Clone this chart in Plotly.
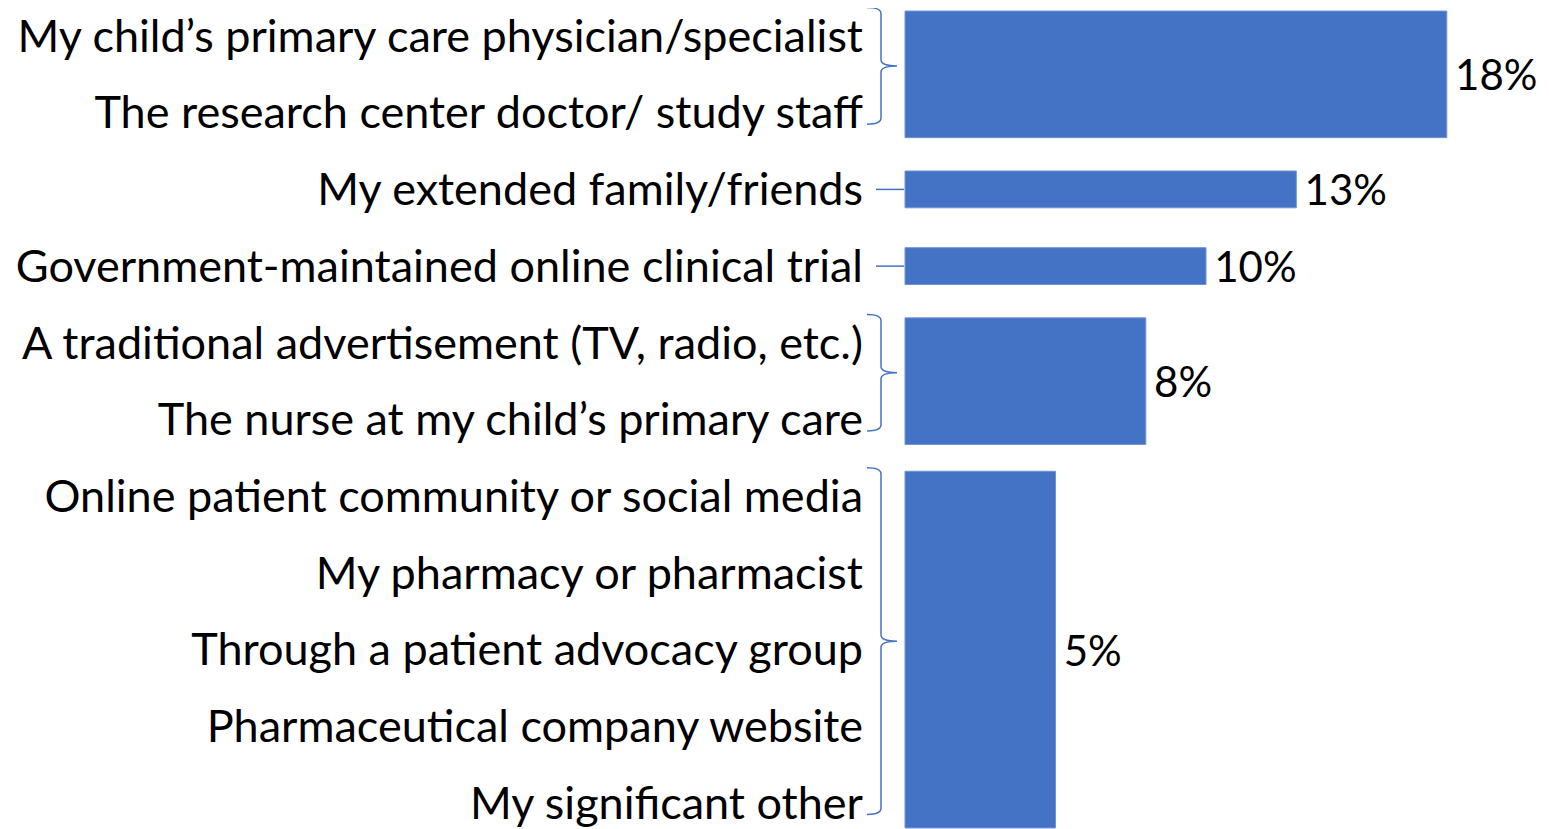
import plotly.graph_objects as go

# answer options, top to bottom
labels = [
    "My child’s primary care physician/specialist",
    "The research center doctor/ study staff",
    "My extended family/friends",
    "Government-maintained online clinical trial",
    "A traditional advertisement (TV, radio, etc.)",
    "The nurse at my child’s primary care",
    "Online patient community or social media",
    "My pharmacy or pharmacist",
    "Through a patient advocacy group",
    "Pharmaceutical company website",
    "My significant other",
]
# how many consecutive options share one bar
group_sizes = [2, 1, 1, 2, 5]
shares = [18, 13, 10, 8, 5]

BLUE = "#4472C4"
FONT = "Lato"

# page geometry (the html body puts the figure 8px in from the top-left)
PAGE_W, PAGE_H = 1549, 829
BODY = 8
W, H = PAGE_W - 2 * BODY, PAGE_H - BODY
X0_PX = 905          # page pixel where 0% sits
PX_PER_PCT = 30.1
ROW0_PX = 36         # page pixel, centre of first row
ROW_PX = 76.7        # row pitch


def xd(px):
    return (px - X0_PX) / PX_PER_PCT


def yd(py):
    return (py - ROW0_PX) / ROW_PX


centers, widths, firsts, lasts = [], [], [], []
start = 0
for n in group_sizes:
    first, last = start, start + n - 1
    firsts.append(first)
    lasts.append(last)
    centers.append((first + last) / 2)
    widths.append((n - 1) + 0.65 if n > 1 else 0.48)
    start += n

fig = go.Figure()
fig.add_trace(go.Bar(
    x=shares,
    y=centers,
    width=widths,
    orientation="h",
    marker=dict(color=BLUE, line=dict(color="#6f93d3", width=1)),
    text=[f"\u2009{v}%" for v in shares],
    textposition="outside",
    constraintext="none",
    cliponaxis=False,
    textfont=dict(family=FONT, size=42, color="black"),
    hoverinfo="skip",
))

# braces / connectors between labels and bars
for first, last, n in zip(firsts, lasts, group_sizes):
    if n == 1:
        fig.add_shape(type="line", x0=xd(876), x1=xd(904), y0=first, y1=first,
                      line=dict(color=BLUE, width=1.5))
        continue
    top, bot = first - 0.37, last + 0.15
    mid = (top + bot) / 2
    xh, xv, xp = xd(867), xd(881), xd(897)
    d = 0.08
    path = (f"M {xh},{top} Q {xv},{top} {xv},{top + d} "
            f"L {xv},{mid - d} Q {xv},{mid} {xp},{mid} "
            f"Q {xv},{mid} {xv},{mid + d} "
            f"L {xv},{bot - d} Q {xv},{bot} {xh},{bot}")
    fig.add_shape(type="path", path=path, line=dict(color=BLUE, width=1.5))

fig.update_layout(
    width=W, height=H,
    margin=dict(l=0, r=0, t=0, b=0),
    paper_bgcolor="white", plot_bgcolor="white",
    showlegend=False,
    font=dict(family=FONT, color="black"),
    xaxis=dict(range=[xd(BODY), xd(BODY + W)], visible=False, fixedrange=True),
    yaxis=dict(
        range=[yd(BODY + H), yd(BODY)],
        tickvals=list(range(len(labels))),
        ticktext=labels,
        tickfont=dict(family=FONT, size=45, color="black"),
        ticklabeloverflow="allow",
        anchor="free", position=(863 - BODY) / W,
        showgrid=False, zeroline=False, showline=False, ticks="",
        automargin=False, fixedrange=True,
    ),
)

fig.write_html("out.html")
